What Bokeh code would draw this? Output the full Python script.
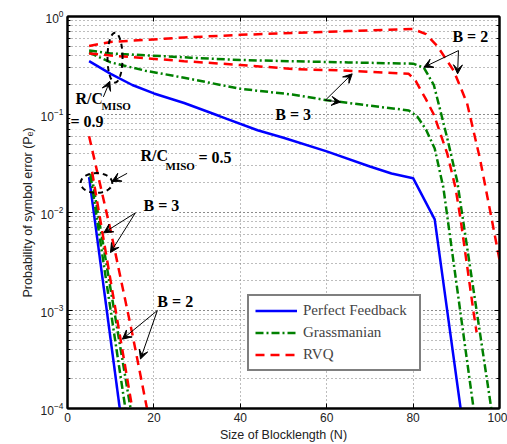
import numpy as np
from bokeh.plotting import figure
from bokeh.models import (Label, Arrow, VeeHead, Legend, LegendItem, FixedTicker,
                          LinearAxis, LogAxis)
from bokeh.embed import file_html
from bokeh.resources import INLINE

# ---------------- data ----------------
# R/C_MISO = 0.9
n_pf_09 = [5, 10, 15, 20, 27, 35, 44, 50, 60, 70, 75, 80, 85, 91]
pe_pf_09 = [0.35, 0.26, 0.2, 0.164, 0.131, 0.097, 0.069, 0.058, 0.042, 0.0295, 0.025, 0.0224, 0.0085, 1e-4]

n_gr3_09 = [5, 10, 18, 27, 40, 52, 60, 70, 79, 81, 83, 85, 87, 94]
pe_gr3_09 = [0.43, 0.34, 0.28, 0.237, 0.183, 0.16, 0.14, 0.123, 0.11, 0.095, 0.07, 0.045, 0.018, 1e-4]

n_gr2_09 = [5, 10, 28.5, 40, 51.6, 65, 80, 82.5, 84.8, 86.3, 88, 90.2, 98.1]
pe_gr2_09 = [0.45, 0.42, 0.38, 0.36, 0.35, 0.34, 0.33, 0.30, 0.2, 0.11, 0.055, 0.021, 1e-4]

n_rv2_09 = [5, 10, 27, 40, 53, 65, 80, 83, 85.6, 89.4, 92.5, 95.5, 97.9, 100]
pe_rv2_09 = [0.50, 0.55, 0.61, 0.65, 0.68, 0.71, 0.745, 0.66, 0.5, 0.28, 0.13, 0.035, 0.01, 0.0033]

n_rv3_09 = [5, 10, 27, 40, 53, 65, 79, 80.6, 82.9, 84.8, 87.9, 89.8, 91, 94, 94.7]
pe_rv3_09 = [0.42, 0.40, 0.35, 0.32, 0.29, 0.28, 0.26, 0.22, 0.145, 0.10, 0.04, 0.018, 0.0085, 0.00096, 0.0006]

# R/C_MISO = 0.5
n_pf_05 = [5, 12.1]
pe_pf_05 = [0.023, 1e-4]
n_gr3_05 = [5.3, 13.4]
pe_gr3_05 = [0.024, 1e-4]
n_gr2_05 = [5.5, 14.6]
pe_gr2_05 = [0.025, 1e-4]
n_rv3_05 = [5.7, 15.0]
pe_rv3_05 = [0.026, 1e-4]
n_rv2_05 = [5, 10, 15, 18.4]
pe_rv2_05 = [0.06, 0.0065, 0.00058, 1e-4]

x_ticks = [0, 20, 40, 60, 80, 100]
legend_labels = ["Perfect Feedback", "Grassmanian", "RVQ"]

# ---------------- styles ----------------
BLUE, GREEN, RED = "#0000FF", "#008000", "#FF0000"
LW = 2.5
DASH_GR = "8 3 2 3"
DASH_RV = "9 6"
SERIF = "Liberation Serif"
SANS = "Liberation Sans"

p = figure(width=507, height=444, x_range=(0, 100), y_range=(1e-4, 1),
           y_axis_type="log", output_backend="svg", toolbar_location=None,
           min_border_left=67, min_border_right=8, min_border_top=16,
           min_border_bottom=34, background_fill_color="white",
           border_fill_color="white")

p.outline_line_color = "black"
p.outline_line_width = 2

# axes
p.xaxis.ticker = FixedTicker(ticks=x_ticks)
for ax in (p.xaxis[0], p.yaxis[0]):
    ax.axis_line_width = 2
    ax.axis_line_color = "black"
    ax.major_tick_in = 5
    ax.major_tick_out = 0
    ax.minor_tick_in = 3
    ax.minor_tick_out = 0
    ax.major_label_text_font = SANS
    ax.major_label_text_font_size = "12px"
    ax.major_label_text_color = "#222222"
    ax.axis_label_text_font = SANS
    ax.axis_label_text_font_size = "12.5px"
    ax.axis_label_text_font_style = "normal"
    ax.axis_label_text_color = "#222222"
    ax.major_label_standoff = 4
    ax.axis_label_standoff = 3
p.xaxis.minor_tick_line_color = None
p.xaxis.axis_label = "Size of Blocklength (N)"
p.yaxis.axis_label = "Probability of symbol error (P\u2091)"

# mirrored ticks on top and right (box style)
top = LinearAxis(ticker=FixedTicker(ticks=x_ticks), major_label_text_font_size="1px",
                 major_label_text_alpha=0, major_tick_in=5, major_tick_out=0,
                 minor_tick_line_color=None, axis_line_width=2, major_label_standoff=0)
right = LogAxis(major_label_text_font_size="1px", major_label_text_alpha=0,
                major_tick_in=5, major_tick_out=0, minor_tick_in=3, minor_tick_out=0,
                axis_line_width=2, major_label_standoff=0)
p.add_layout(top, "above")
p.add_layout(right, "right")

# grids
p.xgrid.grid_line_color = "#7a7a7a"
p.xgrid.grid_line_dash = "1 3"
p.xgrid.grid_line_width = 1
p.ygrid.grid_line_color = "#7a7a7a"
p.ygrid.grid_line_dash = "1 3"
p.ygrid.minor_grid_line_color = "#7a7a7a"
p.ygrid.minor_grid_line_dash = "1 3"

# ---------------- curves ----------------
r_pf = p.line(n_pf_09, pe_pf_09, color=BLUE, line_width=LW)
p.line(n_pf_05, pe_pf_05, color=BLUE, line_width=LW)

r_gr = p.line(n_gr3_09, pe_gr3_09, color=GREEN, line_width=LW, line_dash=DASH_GR)
p.line(n_gr2_09, pe_gr2_09, color=GREEN, line_width=LW, line_dash=DASH_GR)
p.line(n_gr3_05, pe_gr3_05, color=GREEN, line_width=LW, line_dash=DASH_GR)
p.line(n_gr2_05, pe_gr2_05, color=GREEN, line_width=LW, line_dash=DASH_GR)

r_rv = p.line(n_rv2_09, pe_rv2_09, color=RED, line_width=LW, line_dash=DASH_RV)
p.line(n_rv3_09, pe_rv3_09, color=RED, line_width=LW, line_dash=DASH_RV)
p.line(n_rv3_05, pe_rv3_05, color=RED, line_width=LW, line_dash=DASH_RV)
p.line(n_rv2_05, pe_rv2_05, color=RED, line_width=LW, line_dash=DASH_RV)

# ---------------- annotations ----------------
def ellipse(cx, cy, a, b):
    t = np.linspace(0, 2 * np.pi, 80)
    p.line(cx + a * np.cos(t), 10 ** (np.log10(cy) + b * np.sin(t)),
           color="black", line_width=2, line_dash="5 4")

ellipse(11.0, 0.38, 1.74, 0.254)
ellipse(6.7, 0.02, 3.66, 0.101)

def arrow(x0, y0, x1, y1):
    p.add_layout(Arrow(end=VeeHead(size=9, fill_color="black", line_color="black", line_width=1),
                       x_start=x0, y_start=y0, x_end=x1, y_end=y1,
                       line_color="black", line_width=1))

arrow(90.5, 0.449, 82.5, 0.304)
arrow(90.5, 0.449, 90.3, 0.26)
arrow(59.7, 0.14, 65.9, 0.26)
arrow(59.7, 0.14, 63.2, 0.134)
arrow(8.3, 0.151, 9.8, 0.218)
arrow(13.8, 0.0251, 10.3, 0.0207)
arrow(15.7, 0.0099, 8.4, 0.0062)
arrow(15.7, 0.0099, 9.95, 0.0039)
arrow(20.8, 0.001, 12.7, 0.00051)
arrow(20.8, 0.001, 16.9, 0.00032)

def label(x, y, text, size="16px"):
    p.add_layout(Label(x=x, y=y, text=text, text_font=SERIF, text_font_style="bold",
                       text_font_size=size, text_baseline="middle", text_align="left",
                       text_color="black", background_fill_color="white"))

label(89.1, 0.62, "B = 2")
label(48.1, 0.1, "B = 3")
label(17.6, 0.0117, "B = 3")
label(20.8, 0.00125, "B = 2")
label(1.85, 0.146, "R/C")
label(7.87, 0.121, "MISO", size="11px")
label(0.69, 0.0855, "= 0.9")
label(16.9, 0.0378, "R/C")
label(22.7, 0.0299, "MISO", size="11px")
label(30.3, 0.036, "= 0.5")

# ---------------- legend ----------------
legend = Legend(items=[LegendItem(label=legend_labels[0], renderers=[r_pf]),
                       LegendItem(label=legend_labels[1], renderers=[r_gr]),
                       LegendItem(label=legend_labels[2], renderers=[r_rv])],
                location=(180, 37), orientation="vertical",
                label_text_font=SERIF, label_text_font_size="15px",
                glyph_width=42, glyph_height=17, label_standoff=6, spacing=5,
                padding=6, margin=0, label_width=110,
                border_line_color="black", border_line_width=2,
                background_fill_color="white", background_fill_alpha=1)
p.add_layout(legend, "center")

open("out.html", "w").write(file_html(p, INLINE))
